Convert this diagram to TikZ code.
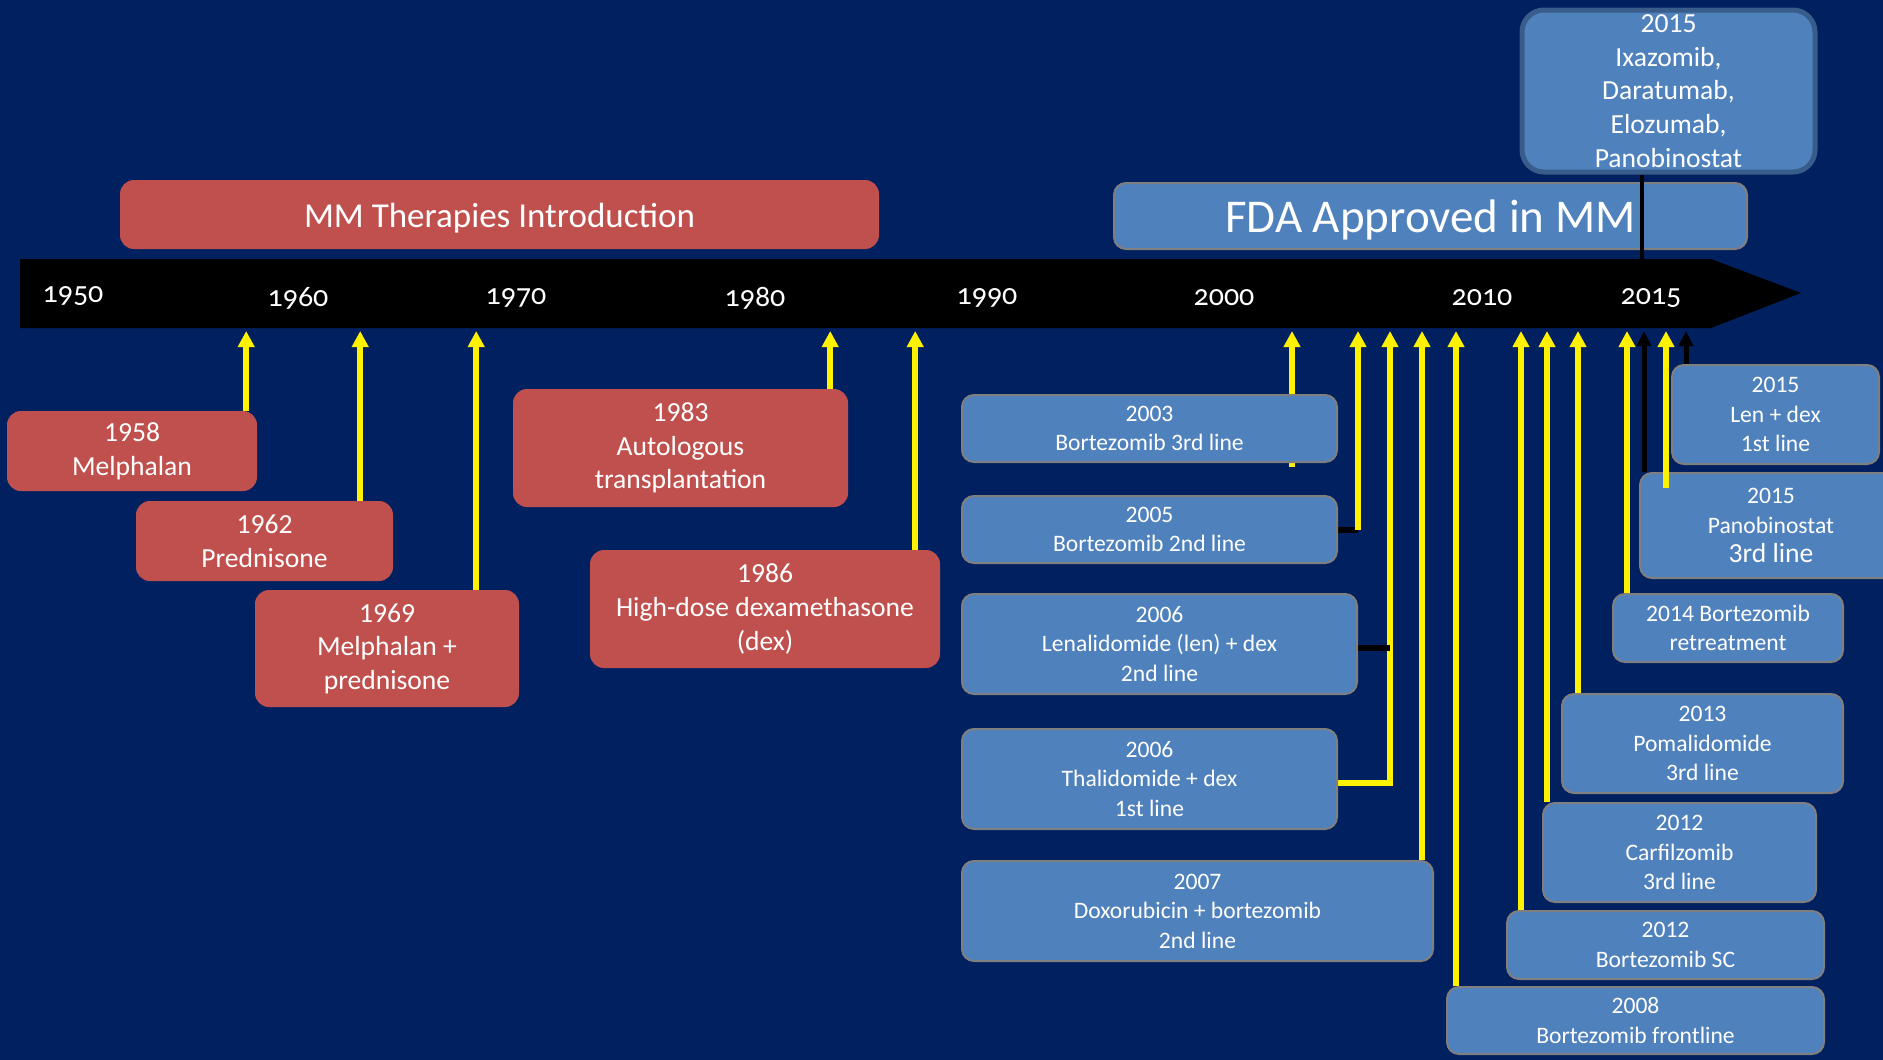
\documentclass[tikz,border=0pt]{standalone}
\usepackage{fontspec}
\setmainfont{Carlito}
\usetikzlibrary{arrows.meta,positioning}

\definecolor{mmbg}{HTML}{002060}
\definecolor{mmred}{HTML}{C0504D}
\definecolor{mmblue}{HTML}{4F81BD}
\definecolor{mmgray}{HTML}{7F7F7F}
\definecolor{mmedge}{HTML}{385D8A}

\pgfdeclarelayer{back}
\pgfsetlayers{back,main}

\newcommand{\redfont}{\fontsize{27.6}{33.6}\selectfont}
\newcommand{\bluefont}{\fontsize{23.6}{29.5}\selectfont}
\newcommand{\yearfont}{\fontsize{30}{34}\selectfont\addfontfeatures{Numbers=OldStyle}}

\begin{document}
\begin{tikzpicture}[x=1pt,y=-1pt,
	rbox/.style={fill=mmred,text=white,rounded corners=14pt,align=center,inner sep=0pt,font=\redfont,execute at begin node={\rule{0pt}{22pt}}},
	bbox/.style={fill=mmblue,draw=mmgray,line width=2pt,text=white,rounded corners=12pt,align=center,inner sep=0pt,font=\bluefont,execute at begin node={\rule{0pt}{18pt}}},
	yarr/.style={draw=yellow,line width=6pt,-{Triangle[width=16pt,length=16pt]}},
	karr/.style={draw=black,line width=5pt,-{Triangle[width=14pt,length=15pt]}},
	kstub/.style={draw=black,line width=6pt},
	yr/.style={text=white,font=\yearfont,inner sep=0pt}]
	\useasboundingbox (0,0) rectangle (1883,1060);
	\begin{pgfonlayer}{back}
		\fill[mmbg] (0,0) rectangle (1883,1060);
	\end{pgfonlayer}
	%
	\fill[black] (20,259) -- (1711,259) -- (1801,293) -- (1711,328) -- (20,328) -- cycle;
	\coordinate (tlt) at (0,259);
	\coordinate (tlb) at (0,331);
	\node[yr] (y1950) at (73,296) {1950};
	\node[yr] (y1960) at (298,298) {1960};
	\node[yr] (y1970) at (516,298) {1970};
	\node[yr] (y1980) at (755,298) {1980};
	\node[yr] (y1990) at (987,298) {1990};
	\node[yr] (y2000) at (1224,298) {2000};
	\node[yr] (y2010) at (1482,298) {2010};
	\node[yr] (y2015) at (1651,298) {2015};
	%
	\node[rbox,minimum width=759pt,minimum height=69pt,font=\fontsize{35}{42}\selectfont,execute at begin node={},text height=34pt,text depth=9pt] (intro) at (499.5,214.5) {MM Therapies Introduction};
	\node[bbox,minimum width=633pt,minimum height=66pt,font=\fontsize{47}{56}\selectfont,execute at begin node={},text height=45pt,text depth=12pt] (fda) at (1430.5,216) {FDA Approved in MM};
	\node[bbox,draw=mmedge,line width=5pt,rounded corners=22pt,minimum width=293pt,minimum height=162pt,font=\redfont] (newest) at (1668.5,91) {2015\\Ixazomib,\\Daratumab,\\Elozumab,\\Panobinostat};
	%
	\node[rbox,minimum width=250pt,minimum height=80pt] (r1958) at (132,451) {1958\\Melphalan};
	\node[rbox,minimum width=257pt,minimum height=80pt] (r1962) at (264.5,541) {1962\\Prednisone};
	\node[rbox,minimum width=264pt,minimum height=117pt] (r1969) at (387,648.5) {1969\\Melphalan +\\prednisone};
	\node[rbox,minimum width=335pt,minimum height=118pt] (r1983) at (680.5,448) {1983\\Autologous\\transplantation};
	\node[rbox,minimum width=350pt,minimum height=118pt] (r1986) at (765,609) {1986\\High-dose dexamethasone\\(dex)};
	%
	\node[bbox,minimum width=375pt,minimum height=67pt] (b2003) at (1149.5,428.5) {2003\\Bortezomib 3rd line};
	\node[bbox,minimum width=375pt,minimum height=67pt] (b2005) at (1149.5,529.5) {2005\\Bortezomib 2nd line};
	\node[bbox,minimum width=395pt,minimum height=100pt] (b2006l) at (1159.5,644) {2006\\Lenalidomide (len) + dex\\2nd line};
	\node[bbox,minimum width=375pt,minimum height=100pt] (b2006t) at (1149.5,779) {2006\\Thalidomide + dex\\1st line};
	\node[bbox,minimum width=471pt,minimum height=100pt] (b2007) at (1197.5,911) {2007\\Doxorubicin + bortezomib\\2nd line};
	\node[bbox,minimum width=377pt,minimum height=67pt] (b2008) at (1635.5,1020.5) {2008\\Bortezomib frontline};
	\node[bbox,minimum width=317pt,minimum height=68pt] (b2012s) at (1665.5,945) {2012\\Bortezomib SC};
	\node[bbox,minimum width=273pt,minimum height=99pt] (b2012c) at (1679.5,852.5) {2012\\Carfilzomib\\3rd line};
	\node[bbox,minimum width=281pt,minimum height=99pt] (b2013) at (1702.5,743.5) {2013\\Pomalidomide\\3rd line};
	\node[bbox,minimum width=230pt,minimum height=68pt] (b2014) at (1728,628) {2014 Bortezomib\\retreatment};
	\node[bbox,minimum width=262pt,minimum height=105pt] (b2015p) at (1771,525.5) {2015\\Panobinostat\\{\redfont 3rd line}};
	\node[bbox,minimum width=207pt,minimum height=99pt] (b2015l) at (1775.5,414.5) {2015\\Len + dex\\1st line};
	%
	\begin{pgfonlayer}{back}
		\draw[yarr] ([xshift=-11pt]r1958.north east) -- ([xshift=-11pt]r1958.north east |- tlb);
		\draw[yarr] ([xshift=-33pt]r1962.north east) -- ([xshift=-33pt]r1962.north east |- tlb);
		\draw[yarr] ([xshift=-43pt]r1969.north east) -- ([xshift=-43pt]r1969.north east |- tlb);
		\draw[yarr] ([xshift=-18pt]r1983.north east) -- ([xshift=-18pt]r1983.north east |- tlb);
		\draw[yarr] ([xshift=-25pt]r1986.north east) -- ([xshift=-25pt]r1986.north east |- tlb);
		%
		\draw[yarr] ([xshift=-46pt,yshift=-4pt]b2003.south east) -- ([xshift=-46pt]b2003.south east |- tlb);
		\draw[kstub] (b2005.east) -- ++(20,0) coordinate (c2005);
		\draw[yarr] (c2005) -- (c2005 |- tlb);
		\draw[yarr] ([yshift=-4pt]b2006t.east) -- ++(52,0) coordinate (c2006) -- (c2006 |- tlb);
		\draw[kstub] ([yshift=-4pt]b2006l.east) -- ([yshift=-4pt]b2006l.east -| c2006);
		\draw[yarr] ([xshift=-12pt]b2007.north east) -- ([xshift=-12pt]b2007.north east |- tlb);
		\draw[yarr] ([xshift=10pt]b2008.north west) -- ([xshift=10pt]b2008.north west |- tlb);
		\draw[yarr] ([xshift=15pt]b2012s.north west) -- ([xshift=15pt]b2012s.north west |- tlb);
		\draw[yarr] ([xshift=5pt]b2012c.north west) -- ([xshift=5pt]b2012c.north west |- tlb);
		\draw[yarr] ([xshift=17pt]b2013.north west) -- ([xshift=17pt]b2013.north west |- tlb);
		\draw[yarr] ([xshift=15pt]b2014.north west) -- ([xshift=15pt]b2014.north west |- tlb);
	\end{pgfonlayer}
	%
	\draw[karr] ([xshift=5pt]b2015p.north west) -- ([xshift=5pt]b2015p.north west |- tlb);
	\draw[yarr] ([xshift=27pt,yshift=-16pt]b2015p.north west) -- ([xshift=27pt]b2015p.north west |- tlb);
	\draw[karr] ([xshift=15pt]b2015l.north west) -- ([xshift=15pt]b2015l.north west |- tlb);
	\draw[black,line width=4pt] ([xshift=122pt]newest.south west) -- ([xshift=122pt]newest.south west |- tlt);
\end{tikzpicture}
\end{document}
